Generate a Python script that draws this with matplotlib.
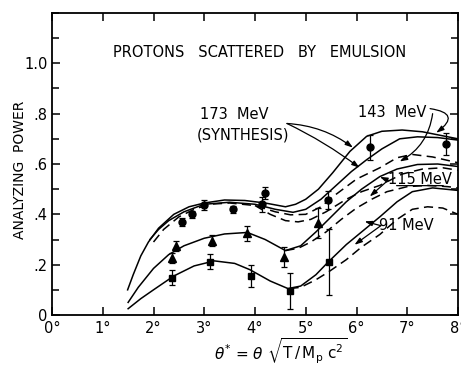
import matplotlib
matplotlib.use("Agg")
import matplotlib.pyplot as plt
from matplotlib.ticker import MultipleLocator, FixedLocator, FixedFormatter

plt.rcParams['font.family'] = ['DejaVu Sans']
plt.rcParams['mathtext.fontset'] = 'dejavusans'

# ---- data points (x = theta*, degrees; y = analyzing power) ----
circ_x = [2.57, 2.76, 3.00, 3.56, 4.13, 4.20, 5.44, 6.26, 7.77]
circ_y = [0.370, 0.400, 0.438, 0.420, 0.440, 0.485, 0.458, 0.667, 0.680]
circ_e = [0.015, 0.015, 0.020, 0.015, 0.030, 0.025, 0.035, 0.050, 0.045]

tri_x = [2.36, 2.45, 3.15, 3.84, 4.57, 5.24]
tri_y = [0.228, 0.276, 0.296, 0.325, 0.230, 0.365]
tri_e = [0.020, 0.020, 0.020, 0.030, 0.040, 0.060]

sq_x = [2.37, 3.12, 3.92, 4.68, 5.45]
sq_y = [0.149, 0.212, 0.155, 0.096, 0.210]
sq_e = [0.030, 0.030, 0.045, 0.072, 0.130]

# ---- theoretical curves ----
a_x = [1.49, 1.6, 1.75, 1.9, 2.1, 2.4, 2.7, 3.0, 3.4, 3.8, 4.2, 4.6, 4.8, 5.0, 5.25, 5.53, 5.87, 6.2, 6.5, 6.9, 7.3, 7.7, 8.0]
a_y = [0.10, 0.16, 0.235, 0.29, 0.345, 0.40, 0.43, 0.445, 0.457, 0.455, 0.445, 0.43, 0.44, 0.46, 0.50, 0.565, 0.65, 0.71, 0.73, 0.735, 0.728, 0.712, 0.70]

b_x = [1.93, 2.1, 2.3, 2.6, 3.0, 3.5, 4.0, 4.4, 4.75, 5.0, 5.3, 5.6, 5.9, 6.2, 6.5, 6.85, 7.2, 7.6, 8.0]
b_y = [0.30, 0.34, 0.375, 0.41, 0.44, 0.448, 0.44, 0.42, 0.408, 0.42, 0.46, 0.515, 0.57, 0.617, 0.66, 0.70, 0.708, 0.705, 0.695]

c_x = [2.0, 2.2, 2.5, 2.8, 3.1, 3.5, 4.0, 4.4, 4.7, 5.0, 5.3, 5.6, 6.0, 6.46, 6.8, 7.1, 7.5, 8.0]
c_y = [0.29, 0.34, 0.39, 0.42, 0.44, 0.445, 0.435, 0.41, 0.398, 0.40, 0.43, 0.48, 0.54, 0.585, 0.625, 0.638, 0.628, 0.605]

d_x = [4.0, 4.3, 4.6, 4.85, 5.1, 5.4, 5.8, 6.1, 6.46, 6.9, 7.3, 7.7, 8.0]
d_y = [0.435, 0.40, 0.375, 0.37, 0.38, 0.41, 0.46, 0.49, 0.515, 0.56, 0.58, 0.585, 0.575]

t_x = [1.5, 1.7, 2.0, 2.3, 2.6, 3.0, 3.4, 3.85, 4.2, 4.6, 4.9, 5.2, 5.5, 5.8, 6.1, 6.46, 6.8, 7.2, 7.6, 8.0]
t_y = [0.05, 0.11, 0.185, 0.24, 0.275, 0.305, 0.322, 0.328, 0.30, 0.256, 0.275, 0.33, 0.39, 0.45, 0.50, 0.55, 0.58, 0.598, 0.60, 0.59]

td_x = [4.6, 4.85, 5.1, 5.4, 5.7, 6.0, 6.3, 6.6, 7.0, 7.4, 7.8, 8.0]
td_y = [0.256, 0.265, 0.29, 0.33, 0.38, 0.425, 0.46, 0.49, 0.51, 0.515, 0.51, 0.505]

s_x = [1.5, 1.75, 2.0, 2.4, 2.8, 3.2, 3.6, 3.9, 4.3, 4.65, 4.9, 5.2, 5.44, 5.8, 6.1, 6.46, 6.8, 7.1, 7.5, 8.0]
s_y = [0.025, 0.065, 0.10, 0.155, 0.195, 0.215, 0.205, 0.18, 0.135, 0.105, 0.115, 0.16, 0.21, 0.28, 0.33, 0.39, 0.45, 0.49, 0.505, 0.495]

sd_x = [4.68, 4.9, 5.2, 5.44, 5.8, 6.1, 6.46, 6.8, 7.1, 7.4, 7.7, 8.0]
sd_y = [0.105, 0.11, 0.14, 0.17, 0.22, 0.27, 0.32, 0.38, 0.42, 0.43, 0.425, 0.40]

x_ticks = [0, 1, 2, 3, 4, 5, 6, 7, 8]
x_labels = ['0°', '1°', '2°', '3°', '4°', '5°', '6°', '7°', '8°']
y_ticks = [0, 0.2, 0.4, 0.6, 0.8, 1.0]
y_labels = ['0', '.2', '.4', '.6', '.8', '1.0']

fig = plt.figure(figsize=(4.61, 3.66), dpi=100)
ax = fig.add_axes([52/461, 51/366, 406/461, 302/366])

lw = 1.1
dash = (0, (6, 3.5))
for xs, ys in [(a_x, a_y), (b_x, b_y), (t_x, t_y), (s_x, s_y)]:
    ax.plot(xs, ys, color='black', lw=lw)
for xs, ys in [(c_x, c_y), (d_x, d_y), (td_x, td_y), (sd_x, sd_y)]:
    ax.plot(xs, ys, color='black', lw=lw, linestyle=dash)

ekw = dict(color='black', ecolor='black', elinewidth=0.9, capsize=2.5, capthick=0.9, linestyle='none')
ax.errorbar(circ_x, circ_y, yerr=circ_e, marker='o', markersize=5, **ekw)
ax.errorbar(tri_x, tri_y, yerr=tri_e, marker='^', markersize=5.5, **ekw)
ax.errorbar(sq_x, sq_y, yerr=sq_e, marker='s', markersize=5, **ekw)

ax.set_xlim(0, 8)
ax.set_ylim(0, 1.2)
ax.xaxis.set_major_locator(FixedLocator(x_ticks))
ax.xaxis.set_major_formatter(FixedFormatter(x_labels))
ax.yaxis.set_major_locator(FixedLocator(y_ticks))
ax.yaxis.set_major_formatter(FixedFormatter(y_labels))
ax.yaxis.set_minor_locator(MultipleLocator(0.1))
ax.tick_params(which='both', direction='in', top=True, right=True, width=1.1, labelsize=10.5)
ax.tick_params(which='major', length=6)
ax.tick_params(which='minor', length=5)
ax.tick_params(axis='x', pad=4)
ax.tick_params(axis='y', pad=3)
for sp in ax.spines.values():
    sp.set_linewidth(1.3)

ax.set_ylabel('ANALYZING  POWER', fontsize=10)
ax.yaxis.set_label_coords(-0.062, 0.48)
ax.set_xlabel(r'$\theta^{*}$ = $\theta\ \sqrt{\mathrm{T\,/\,M_p\ c^2}}$', fontsize=11)
ax.xaxis.set_label_coords(0.564, -0.07)

ax.text(4.10, 1.044, 'PROTONS   SCATTERED   BY   EMULSION', ha='center', va='center', fontsize=10.5)
ax.text(3.60, 0.797, '173  MeV', ha='center', va='center', fontsize=10.5)
ax.text(3.77, 0.717, '(SYNTHESIS)', ha='center', va='center', fontsize=10.5)
ax.text(6.70, 0.803, '143  MeV', ha='center', va='center', fontsize=10.5)
ax.text(7.25, 0.538, '115 MeV', ha='center', va='center', fontsize=10.5)
ax.text(6.98, 0.355, '91 MeV', ha='center', va='center', fontsize=10.5)

ap = dict(arrowstyle='-|>,head_length=0.45,head_width=0.15', color='black', lw=0.9, shrinkA=0, shrinkB=0)
def arr(start, end, rad):
    ax.annotate('', xy=end, xytext=start,
                arrowprops=dict(connectionstyle='arc3,rad=%g' % rad, **ap))

arr((4.63, 0.761), (5.93, 0.665), -0.15)
arr((4.63, 0.761), (6.06, 0.585), -0.05)
arr((7.45, 0.82), (7.57, 0.724), -1.2)
arr((7.50, 0.80), (6.85, 0.61), -0.25)
arr((6.62, 0.535), (6.46, 0.549), 0.0)
arr((6.62, 0.535), (6.26, 0.471), 0.0)
arr((6.48, 0.355), (6.16, 0.372), 0.0)
arr((6.48, 0.355), (5.96, 0.279), 0.0)
ax.annotate('', xy=(7.71, 0.514), xytext=(6.79, 0.514),
            arrowprops=dict(arrowstyle='-', color='black', lw=0.9, shrinkA=0, shrinkB=0))

fig.savefig('out.png', dpi=100)
